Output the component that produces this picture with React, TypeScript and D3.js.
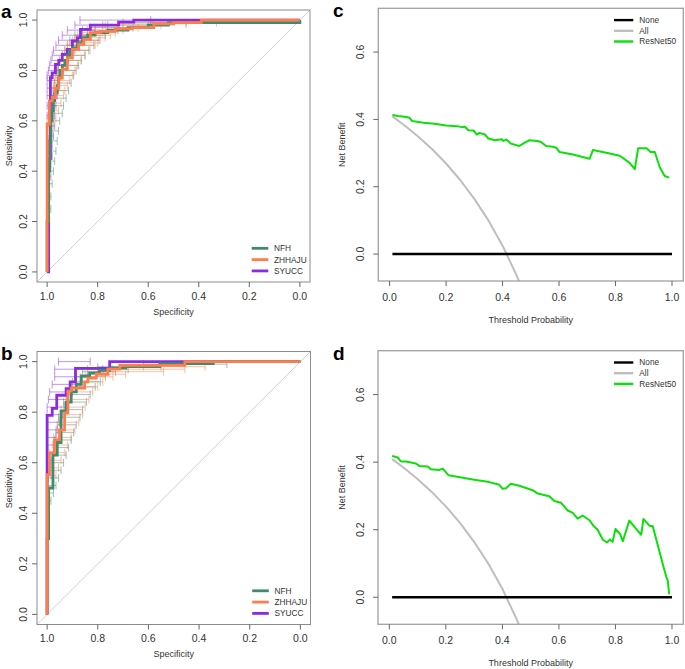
import React from "react";
import * as d3 from "d3";

const FONT = "'Liberation Sans', Arial, Helvetica, sans-serif";

// ---- ROC data, panel a (specificity / sensitivity vertices, step after) ----
const aNfhSpec = [1, 1, 0.994, 0.99, 0.985, 0.98, 0.975, 0.97, 0.96, 0.955, 0.95, 0.94, 0.93, 0.92, 0.91, 0.9, 0.88, 0.86, 0.84, 0.81, 0.76, 0.68, 0.6, 0.52, 0];
const aNfhSens = [0, 0.2, 0.4, 0.52, 0.6, 0.64, 0.68, 0.71, 0.74, 0.77, 0.8, 0.82, 0.84, 0.86, 0.88, 0.89, 0.91, 0.93, 0.94, 0.95, 0.96, 0.97, 0.98, 0.99, 1];
const aZhSpec = [1, 1, 0.991, 0.98, 0.967, 0.954, 0.94, 0.92, 0.9, 0.875, 0.855, 0.829, 0.79, 0.73, 0.664, 0.578, 0.5, 0.39, 0];
const aZhSens = [0, 0.587, 0.679, 0.692, 0.73, 0.77, 0.805, 0.85, 0.884, 0.904, 0.923, 0.95, 0.955, 0.965, 0.97, 0.985, 0.99, 1, 1];
const aSySpec = [1, 0.994, 0.987, 0.98, 0.967, 0.954, 0.94, 0.92, 0.9, 0.88, 0.868, 0.829, 0.717, 0.657, 0];
const aSySens = [0, 0.45, 0.771, 0.79, 0.824, 0.84, 0.864, 0.884, 0.917, 0.93, 0.963, 0.98, 0.992, 1, 1];

// CI bars of specificity at given sensitivities, panel a
const aNfhCiSens = [0.2, 0.25, 0.3, 0.35, 0.4, 0.44, 0.48, 0.52, 0.56, 0.6, 0.63, 0.66, 0.69, 0.72, 0.75, 0.78, 0.8, 0.82, 0.84, 0.86, 0.88, 0.9, 0.92, 0.94, 0.96, 0.97, 0.98, 0.99];
const aNfhCiHi = [1, 1, 1, 1, 1, 1, 0.995, 0.995, 0.99, 0.99, 0.985, 0.98, 0.98, 0.975, 0.97, 0.965, 0.96, 0.955, 0.95, 0.94, 0.93, 0.92, 0.91, 0.89, 0.86, 0.83, 0.78, 0.7];
const aNfhCiLo = [0.99, 0.985, 0.985, 0.98, 0.975, 0.97, 0.965, 0.96, 0.955, 0.95, 0.94, 0.935, 0.925, 0.915, 0.905, 0.895, 0.885, 0.875, 0.865, 0.85, 0.835, 0.815, 0.795, 0.77, 0.72, 0.66, 0.58, 0.45];
const aZhCiSens = [0.58, 0.61, 0.64, 0.67, 0.7, 0.72, 0.74, 0.76, 0.78, 0.8, 0.82, 0.84, 0.86, 0.88, 0.9, 0.91, 0.92, 0.93, 0.94, 0.95, 0.96, 0.97, 0.98, 0.985, 0.99];
const aZhCiHi = [1, 1, 0.995, 0.99, 0.985, 0.98, 0.975, 0.97, 0.965, 0.96, 0.955, 0.95, 0.94, 0.93, 0.92, 0.91, 0.9, 0.89, 0.88, 0.86, 0.84, 0.81, 0.77, 0.72, 0.6];
const aZhCiLo = [0.975, 0.965, 0.955, 0.945, 0.935, 0.93, 0.92, 0.91, 0.9, 0.89, 0.88, 0.865, 0.85, 0.83, 0.81, 0.8, 0.79, 0.77, 0.75, 0.73, 0.7, 0.64, 0.55, 0.45, 0.33];
const aSyCiSens = [0.38, 0.42, 0.46, 0.5, 0.54, 0.58, 0.62, 0.66, 0.7, 0.73, 0.76, 0.78, 0.8, 0.82, 0.84, 0.86, 0.88, 0.9, 0.92, 0.94, 0.96, 0.98, 1.0];
const aSyCiHi = [1, 1, 1, 1, 1, 1, 1, 1, 1, 1, 1, 1, 0.995, 0.99, 0.985, 0.98, 0.975, 0.965, 0.955, 0.94, 0.92, 0.89, 0.87];
const aSyCiLo = [0.985, 0.985, 0.98, 0.98, 0.975, 0.97, 0.97, 0.965, 0.96, 0.955, 0.95, 0.945, 0.935, 0.925, 0.915, 0.9, 0.89, 0.875, 0.86, 0.84, 0.81, 0.76, 0.59];

// ---- ROC data, panel b ----
const bNfhSpec = [1, 1, 0.994, 0.977, 0.96, 0.945, 0.925, 0.905, 0.885, 0.865, 0.832, 0.793, 0.753, 0.69, 0.555, 0.344, 0];
const bNfhSens = [0, 0.3, 0.5, 0.63, 0.68, 0.804, 0.84, 0.88, 0.91, 0.943, 0.955, 0.965, 0.975, 0.98, 0.992, 1, 1];
const bZhSpec = [1, 1, 0.991, 0.971, 0.951, 0.931, 0.918, 0.905, 0.852, 0.839, 0.806, 0.76, 0.713, 0.456, 0];
const bZhSens = [0, 0.553, 0.639, 0.69, 0.73, 0.797, 0.883, 0.895, 0.92, 0.935, 0.95, 0.97, 0.985, 1, 1];
const bSySpec = [1, 1, 0.98, 0.962, 0.925, 0.909, 0.888, 0.753, 0];
const bSySens = [0, 0.787, 0.815, 0.867, 0.893, 0.92, 0.973, 1, 1];

const bNfhCiSens = [0.45, 0.48, 0.51, 0.54, 0.57, 0.6, 0.63, 0.66, 0.69, 0.72, 0.75, 0.78, 0.81, 0.84, 0.87, 0.9, 0.92, 0.94, 0.96, 0.97, 0.98, 0.99];
const bNfhCiHi = [1, 1, 1, 0.995, 0.99, 0.985, 0.98, 0.975, 0.97, 0.965, 0.96, 0.955, 0.945, 0.935, 0.925, 0.91, 0.9, 0.885, 0.86, 0.84, 0.8, 0.62];
const bNfhCiLo = [0.985, 0.975, 0.965, 0.955, 0.945, 0.935, 0.925, 0.915, 0.905, 0.895, 0.885, 0.87, 0.86, 0.845, 0.83, 0.81, 0.79, 0.77, 0.73, 0.68, 0.55, 0.29];
const bZhCiSens = [0.55, 0.58, 0.61, 0.64, 0.67, 0.7, 0.73, 0.76, 0.79, 0.82, 0.85, 0.88, 0.9, 0.92, 0.94, 0.95, 0.96, 0.97, 0.98];
const bZhCiHi = [1, 1, 0.995, 0.99, 0.98, 0.975, 0.965, 0.955, 0.945, 0.935, 0.925, 0.915, 0.9, 0.885, 0.87, 0.85, 0.8, 0.74, 0.62];
const bZhCiLo = [0.965, 0.955, 0.945, 0.93, 0.92, 0.905, 0.89, 0.875, 0.86, 0.85, 0.835, 0.82, 0.8, 0.78, 0.74, 0.69, 0.54, 0.456, 0.376];
const bSyCiSens = [0.55, 0.58, 0.61, 0.64, 0.67, 0.7, 0.73, 0.76, 0.79, 0.82, 0.85, 0.88, 0.91, 0.94, 0.97, 1.0];
const bSyCiHi = [1, 1, 1, 1, 1, 1, 1, 1, 1, 1, 0.995, 0.99, 0.98, 0.97, 0.97, 0.955];
const bSyCiLo = [0.985, 0.98, 0.98, 0.975, 0.97, 0.965, 0.96, 0.95, 0.94, 0.93, 0.92, 0.9, 0.87, 0.84, 0.78, 0.83];

// ---- decision curves ----
const noneThresh = [0.01, 1.0];
const noneNB = [0, 0];
const allThresh = [0.01, 0.05, 0.1, 0.15, 0.2, 0.25, 0.3, 0.35, 0.4, 0.45, 0.47];
const allNB = [0.409, 0.384, 0.35, 0.312, 0.269, 0.22, 0.164, 0.1, 0.025, -0.064, -0.104];

const cResThresh = [0.01, 0.03, 0.06, 0.07, 0.08, 0.12, 0.16, 0.2, 0.24, 0.255, 0.267, 0.279, 0.297, 0.309, 0.318, 0.338, 0.35, 0.374, 0.397, 0.403, 0.414, 0.43, 0.459, 0.477, 0.494, 0.524, 0.536, 0.554, 0.578, 0.59, 0.602, 0.649, 0.708, 0.72, 0.767, 0.815, 0.85, 0.868, 0.88, 0.91, 0.924, 0.939, 0.957, 0.974, 0.99];
const cResNB = [0.413, 0.41, 0.407, 0.405, 0.395, 0.39, 0.387, 0.382, 0.38, 0.377, 0.378, 0.368, 0.367, 0.355, 0.36, 0.355, 0.343, 0.338, 0.341, 0.336, 0.34, 0.328, 0.321, 0.33, 0.338, 0.336, 0.333, 0.321, 0.319, 0.316, 0.303, 0.296, 0.283, 0.309, 0.301, 0.292, 0.271, 0.252, 0.314, 0.314, 0.303, 0.303, 0.257, 0.232, 0.227];

const dResThresh = [0.01, 0.03, 0.041, 0.059, 0.094, 0.106, 0.136, 0.147, 0.177, 0.189, 0.21, 0.295, 0.354, 0.389, 0.401, 0.413, 0.43, 0.46, 0.507, 0.525, 0.566, 0.584, 0.607, 0.631, 0.649, 0.666, 0.684, 0.708, 0.722, 0.737, 0.755, 0.77, 0.781, 0.79, 0.8, 0.816, 0.826, 0.849, 0.891, 0.899, 0.92, 0.932, 0.968, 0.98, 0.985, 0.99];
const dResNB = [0.418, 0.414, 0.402, 0.402, 0.396, 0.389, 0.387, 0.379, 0.377, 0.381, 0.361, 0.349, 0.341, 0.333, 0.321, 0.323, 0.336, 0.33, 0.317, 0.307, 0.299, 0.285, 0.28, 0.257, 0.25, 0.233, 0.242, 0.228, 0.212, 0.2, 0.171, 0.162, 0.171, 0.164, 0.202, 0.188, 0.166, 0.227, 0.185, 0.232, 0.212, 0.21, 0.096, 0.06, 0.05, 0.009];

const rocNames = ["NFH", "ZHHAJU", "SYUCC"];
const rocColors = ["#3f8b6e", "#ff7d4d", "#8a2be2"];
const rocTicks = [1, 0.8, 0.6, 0.4, 0.2, 0];
const dcaNames = ["None", "All", "ResNet50"];
const dcaColors = ["#000000", "#bebebe", "#0be00b"];
const dcaXTicks = [0, 0.2, 0.4, 0.6, 0.8, 1];
const dcaYTicks = [0, 0.2, 0.4, 0.6];

type Roc = { spec: number[]; sens: number[]; ciSens: number[]; ciHi: number[]; ciLo: number[] };

const RocPanel = ({ x0, y0, w, h, letter, rocs, id }: { x0: number; y0: number; w: number; h: number; letter: string; rocs: Roc[]; id: string }) => {
  const x = d3.scaleLinear().domain([1.04, -0.04]).range([x0, x0 + w]);
  const y = d3.scaleLinear().domain([-0.04, 1.04]).range([y0 + h, y0]);
  const bottom = y0 + h;
  const line = d3.line<[number, number]>().x((d) => x(d[0])).y((d) => y(d[1])).curve(d3.curveStepAfter);
  // draw order: SYUCC, NFH, ZHHAJU
  const order = [2, 0, 1];
  return (
    <g>
      <text x={1} y={y0 + 8} fontFamily={FONT} fontWeight="bold" fontSize={19}>{letter}</text>
      <defs>
        <clipPath id={id}><rect x={x0} y={y0} width={w} height={h} /></clipPath>
      </defs>
      <g clipPath={`url(#${id})`}>
        <line x1={x(1.04)} y1={y(-0.04)} x2={x(-0.04)} y2={y(1.04)} stroke="#cfcfcf" strokeWidth={1} />
        {order.map((i) => (
          <g key={"ci" + i} stroke={rocColors[i]} strokeOpacity={0.5} strokeWidth={1}>
            {rocs[i].ciSens.map((s, k) => (
              <g key={k}>
                <line x1={x(rocs[i].ciHi[k])} x2={x(rocs[i].ciLo[k])} y1={y(s)} y2={y(s)} />
                <line x1={x(rocs[i].ciHi[k])} x2={x(rocs[i].ciHi[k])} y1={y(s) - 4} y2={y(s) + 4} />
                <line x1={x(rocs[i].ciLo[k])} x2={x(rocs[i].ciLo[k])} y1={y(s) - 4} y2={y(s) + 4} />
              </g>
            ))}
          </g>
        ))}
        {order.map((i) => (
          <path key={"l" + i} d={line(rocs[i].spec.map((s, k) => [s, rocs[i].sens[k]] as [number, number])) || ""} fill="none" stroke={rocColors[i]} strokeWidth={2.8} />
        ))}
      </g>
      <rect x={x0} y={y0} width={w} height={h} fill="none" stroke="#8c8c8c" strokeWidth={1} />
      {rocTicks.map((t) => (
        <g key={"x" + t} fontFamily={FONT} fontSize={10.5} fill="#333">
          <line x1={x(t)} x2={x(t)} y1={bottom} y2={bottom + 5} stroke="#666" />
          <text x={x(t)} y={bottom + 14.3} dy="0.35em" textAnchor="middle">{t.toFixed(1)}</text>
        </g>
      ))}
      {rocTicks.map((t) => (
        <g key={"y" + t} fontFamily={FONT} fontSize={10.5} fill="#333">
          <line x1={x0} x2={x0 - 5} y1={y(t)} y2={y(t)} stroke="#666" />
          <text transform={`translate(${x0 - 14},${y(t)}) rotate(-90)`} dy="0.35em" textAnchor="middle">{t.toFixed(1)}</text>
        </g>
      ))}
      <text x={x0 + w / 2} y={bottom + 29.5} dy="0.35em" textAnchor="middle" fontFamily={FONT} fontSize={9} fill="#333">Specificity</text>
      <text transform={`translate(${9},${y0 + h / 2}) rotate(-90)`} dy="0.35em" textAnchor="middle" fontFamily={FONT} fontSize={9} fill="#333">Sensitivity</text>
      {rocNames.map((n, i) => (
        <g key={n}>
          <line x1={x0 + w - 58.3} x2={x0 + w - 41.7} y1={bottom - 33.7 + i * 11.3} y2={bottom - 33.7 + i * 11.3} stroke={rocColors[i]} strokeWidth={2.8} />
          <text x={x0 + w - 36} y={bottom - 33.7 + i * 11.3} dy="0.35em" fontFamily={FONT} fontSize={8.3} fill="#333">{n}</text>
        </g>
      ))}
    </g>
  );
};

const DcaPanel = ({ x0, y0, w, h, letter, thresh, nb, id }: { x0: number; y0: number; w: number; h: number; letter: string; thresh: number[]; nb: number[]; id: string }) => {
  const x = d3.scaleLinear().domain([-0.04, 1.04]).range([x0, x0 + w]);
  const y = d3.scaleLinear().domain([-0.08, 0.73]).range([y0 + h, y0]);
  const bottom = y0 + h;
  const path = (ts: number[], vs: number[]) =>
    d3.line<number>().x((t) => x(t)).y((_, i) => y(vs[i]))(ts) || "";
  const curves = [
    [noneThresh, noneNB],
    [allThresh, allNB],
    [thresh, nb],
  ];
  const widths = [2.4, 2, 2];
  const order = [1, 0, 2];
  return (
    <g>
      <text x={333} y={y0 + 9} fontFamily={FONT} fontWeight="bold" fontSize={19}>{letter}</text>
      <defs>
        <clipPath id={id}><rect x={x0} y={y0} width={w} height={h} /></clipPath>
      </defs>
      <g clipPath={`url(#${id})`}>
        {order.map((i) => (
          <path key={i} d={path(curves[i][0], curves[i][1])} fill="none" stroke={dcaColors[i]} strokeWidth={widths[i]} strokeLinejoin="round" />
        ))}
      </g>
      <rect x={x0} y={y0} width={w} height={h} fill="none" stroke="#a0a0a0" strokeWidth={1.3} />
      {dcaXTicks.map((t) => (
        <g key={"x" + t} fontFamily={FONT} fontSize={10.5} fill="#333">
          <line x1={x(t)} x2={x(t)} y1={bottom} y2={bottom + 5} stroke="#666" />
          <text x={x(t)} y={bottom + 16} dy="0.35em" textAnchor="middle">{t.toFixed(1)}</text>
        </g>
      ))}
      {dcaYTicks.map((t) => (
        <g key={"y" + t} fontFamily={FONT} fontSize={10.5} fill="#333">
          <line x1={x0} x2={x0 - 5} y1={y(t)} y2={y(t)} stroke="#666" />
          <text transform={`translate(${x0 - 17.5},${y(t)}) rotate(-90)`} dy="0.35em" textAnchor="middle">{t.toFixed(1)}</text>
        </g>
      ))}
      <text x={x0 + w / 2} y={bottom + 39} dy="0.35em" textAnchor="middle" fontFamily={FONT} fontSize={9} fill="#333">Threshold Probability</text>
      <text transform={`translate(${x0 - 36.5},${y0 + h / 2}) rotate(-90)`} dy="0.35em" textAnchor="middle" fontFamily={FONT} fontSize={9} fill="#333">Net Benefit</text>
      {dcaNames.map((n, i) => (
        <g key={n}>
          <line x1={x0 + w - 69.3} x2={x0 + w - 50} y1={y0 + 11.8 + i * 10.7} y2={y0 + 11.8 + i * 10.7} stroke={dcaColors[i]} strokeWidth={2.4} />
          <text x={x0 + w - 44} y={y0 + 11.8 + i * 10.7} dy="0.35em" fontFamily={FONT} fontSize={8.3} fill="#333">{n}</text>
        </g>
      ))}
    </g>
  );
};

export default function App() {
  const rocsA: Roc[] = [
    { spec: aNfhSpec, sens: aNfhSens, ciSens: aNfhCiSens, ciHi: aNfhCiHi, ciLo: aNfhCiLo },
    { spec: aZhSpec, sens: aZhSens, ciSens: aZhCiSens, ciHi: aZhCiHi, ciLo: aZhCiLo },
    { spec: aSySpec, sens: aSySens, ciSens: aSyCiSens, ciHi: aSyCiHi, ciLo: aSyCiLo },
  ];
  const rocsB: Roc[] = [
    { spec: bNfhSpec, sens: bNfhSens, ciSens: bNfhCiSens, ciHi: bNfhCiHi, ciLo: bNfhCiLo },
    { spec: bZhSpec, sens: bZhSens, ciSens: bZhCiSens, ciHi: bZhCiHi, ciLo: bZhCiLo },
    { spec: bSySpec, sens: bSySens, ciSens: bSyCiSens, ciHi: bSyCiHi, ciLo: bSyCiLo },
  ];
  return (
    <svg width={685} height={669} style={{ position: "absolute", left: 0, top: 0, background: "#fff" }}>
      <rect width={685} height={669} fill="#fff" />
      <RocPanel id="clipA" x0={37} y0={10} w={273} h={272} letter="a" rocs={rocsA} />
      <RocPanel id="clipB" x0={37} y0={351.5} w={273.5} h={273} letter="b" rocs={rocsB} />
      <DcaPanel id="clipC" x0={378.3} y0={8.3} w={305} h={272.7} letter="c" thresh={cResThresh} nb={cResNB} />
      <DcaPanel id="clipD" x0={378} y0={350.7} w={305.3} h={273.6} letter="d" thresh={dResThresh} nb={dResNB} />
    </svg>
  );
}
